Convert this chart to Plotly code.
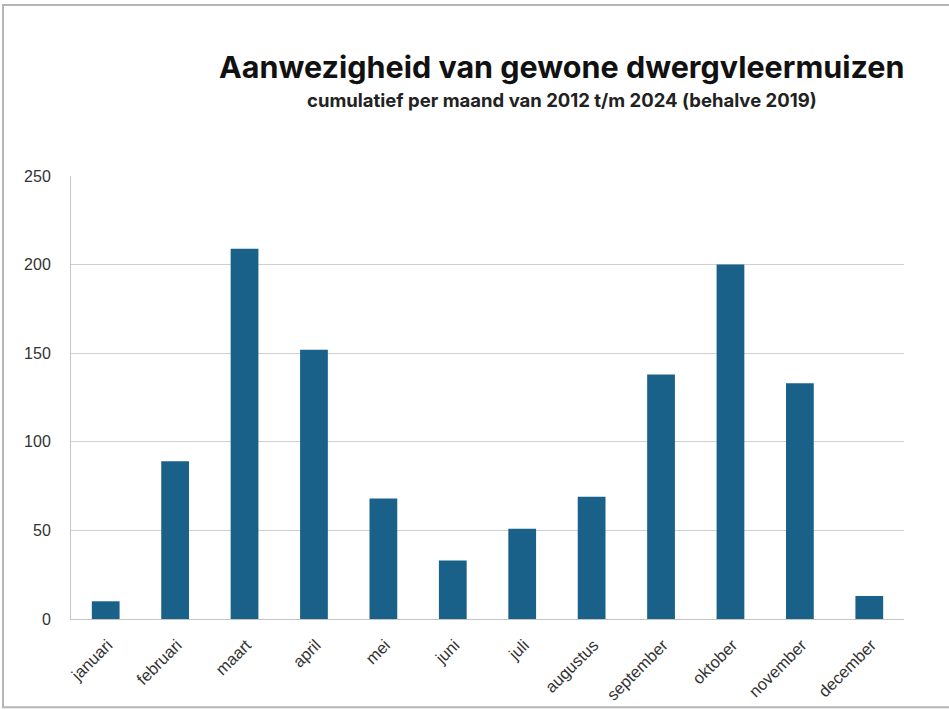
import plotly.graph_objects as go

maanden = ["januari", "februari", "maart", "april", "mei", "juni", "juli",
           "augustus", "september", "oktober", "november", "december"]
aantallen = [10, 89, 209, 152, 68, 33, 51, 69, 138, 200, 133, 13]
y_ticks = [0, 50, 100, 150, 200, 250]

titel = "Aanwezigheid van gewone dwergvleermuizen"
ondertitel = "cumulatief per maand van 2012 t/m 2024 (behalve 2019)"

fig = go.Figure()
fig.add_trace(go.Bar(
    x=maanden, y=aantallen,
    marker=dict(color="#1a6189", line=dict(width=0)),
    width=0.4,
))

fig.update_layout(
    width=949, height=710,
    margin=dict(l=71, r=45, t=176, b=91),
    paper_bgcolor="white", plot_bgcolor="white",
    showlegend=False,
    font=dict(family="Liberation Sans, Arial, sans-serif", size=15, color="#333333"),
    xaxis=dict(
        type="category",
        tickangle=-45,
        automargin=False,
        showgrid=False,
        showline=True, linecolor="#c4c4c4", linewidth=1,
        ticks="", ticklabelshift=2, ticklabelstandoff=9,
        tickfont=dict(size=16.5, color="#333333"),
    ),
    yaxis=dict(
        range=[0, 250],
        tickvals=y_ticks,
        automargin=False,
        showgrid=True, gridcolor="#cfcfcf", gridwidth=1,
        showline=True, linecolor="#c4c4c4", linewidth=1,
        zeroline=False,
        ticks="", ticklabelstandoff=16,
        tickfont=dict(size=16, color="#333333"),
    ),
    annotations=[
        dict(text="<b>" + titel + "</b>", xref="paper", yref="paper",
             x=0.59, y=1.248, xanchor="center", yanchor="middle",
             showarrow=False,
             font=dict(family="Inter, Roboto, sans-serif", size=30.5, color="#111111")),
        dict(text="<b>" + ondertitel + "</b>", xref="paper", yref="paper",
             x=0.59, y=1.171, xanchor="center", yanchor="middle",
             showarrow=False,
             font=dict(family="Inter, Roboto, sans-serif", size=18.5, color="#222222")),
    ],
    shapes=[
        dict(type="rect", xref="paper", yref="paper",
             x0=-0.0816, x1=1.2, y0=-0.199, y1=1.386,
             line=dict(color="#b5b5b5", width=2), layer="below"),
    ],
)

fig.write_html("out.html")
